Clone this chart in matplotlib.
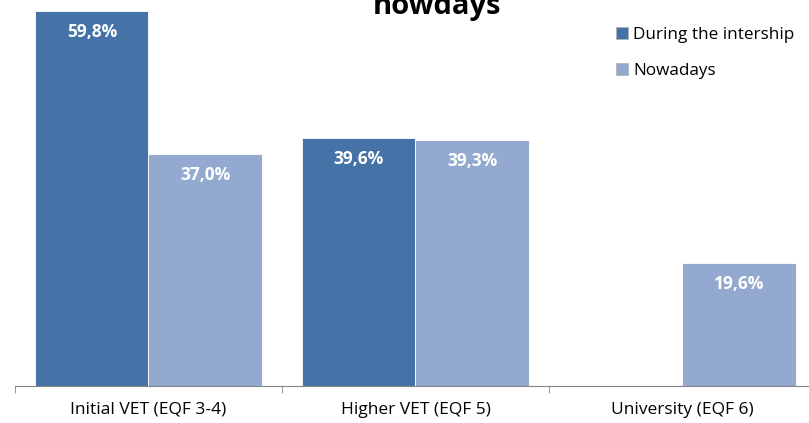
import matplotlib.pyplot as plt
import numpy as np
from matplotlib.patches import Patch

categories = ['Initial VET (EQF 3-4)', 'Higher VET (EQF 5)', 'University (EQF 6)']
during = [59.8, 39.6, 0.0]
nowadays = [37.0, 39.3, 19.6]
series_names = ['During the intership', 'Nowadays']

dark = '#4572A7'
light = '#93A9CF'
font = ['Open Sans', 'DejaVu Sans']
plt.rcParams['font.family'] = font

fig = plt.figure(figsize=(8.09, 4.23), dpi=100)
ax = fig.add_axes([15 / 809, 37 / 423, 801 / 809, 386 / 423])

x = np.arange(len(categories))
w = 0.424
b1 = ax.bar(x - w / 2, during, w, color=dark, edgecolor='white', linewidth=0.6)
b2 = ax.bar(x + w / 2, nowadays, w, color=light, edgecolor='white', linewidth=0.6)

# value labels inside the top of each bar
for bars, vals in ((b1, during), (b2, nowadays)):
    for r, v in zip(bars, vals):
        if v <= 0:
            continue
        ax.text(r.get_x() + r.get_width() / 2, v - 3.4, f'{v:.1f}%'.replace('.', ','),
                ha='center', va='center', color='white', fontsize=12.5, fontweight='bold')

ax.set_xlim(-0.5, 2.5)
ax.set_ylim(0, 386 / 6.27)
for s in ('left', 'top', 'right'):
    ax.spines[s].set_visible(False)
ax.spines['bottom'].set_color('#868686')
ax.set_yticks([])
ax.set_xticks(x)
ax.set_xticklabels(categories, fontsize=12.5)
ax.tick_params(axis='x', which='major', length=0, pad=11.5)
ax.set_xticks([-0.5, 0.5, 1.5, 2.5], minor=True)
ax.tick_params(axis='x', which='minor', length=5, color='#868686', direction='out')

# only the last line of the title is visible in the reference
fig.text(437 / 809, 1 - 14 / 423, 'nowdays', ha='center', va='baseline',
         fontsize=21, fontweight='bold')

handles = [Patch(facecolor=dark, edgecolor='#b0b0b0', linewidth=0.5),
           Patch(facecolor=light, edgecolor='#b0b0b0', linewidth=0.5)]
fig.legend(handles, series_names, loc='upper left', bbox_to_anchor=(609 / 809, 1 - 20 / 423),
           frameon=False, fontsize=12.3, handlelength=0.7, handleheight=0.7,
           handletextpad=0.3, labelspacing=1.2, borderaxespad=0)

fig.savefig('out.png', dpi=100)
